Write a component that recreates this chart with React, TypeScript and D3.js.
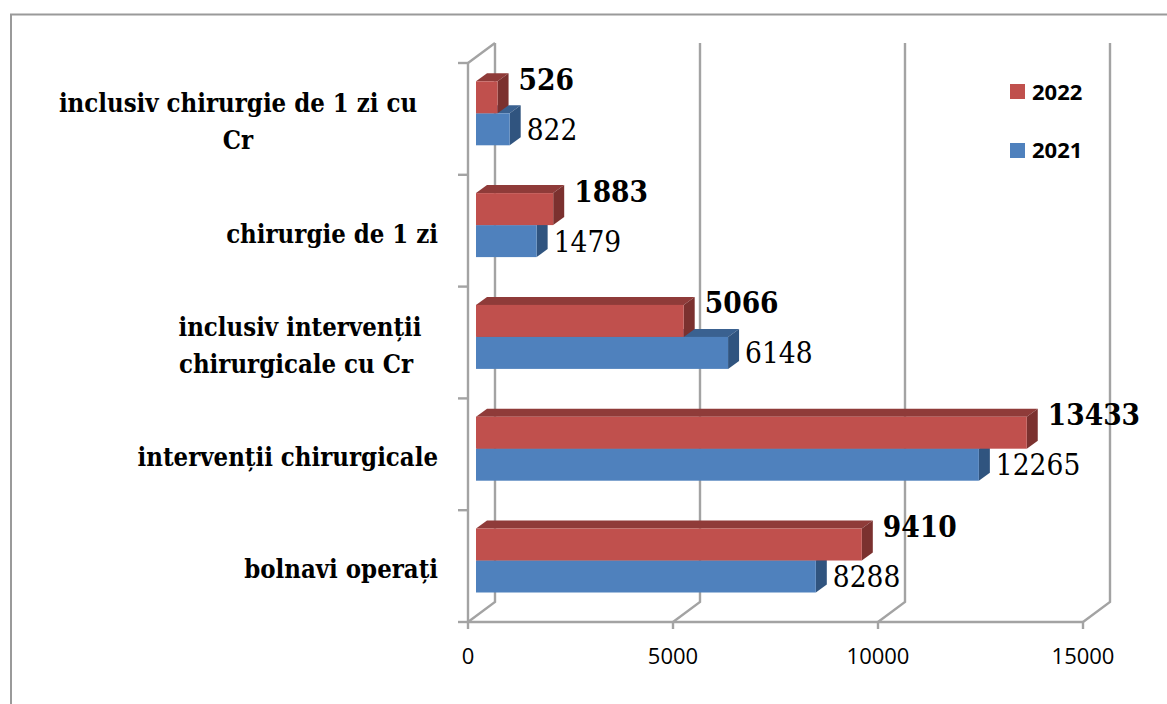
import React from "react";
import * as d3 from "d3";

const categories = ["inclusiv chirurgie de 1 zi cu|Cr", "chirurgie de 1 zi", "inclusiv intervenții|chirurgicale cu Cr ", "intervenții chirurgicale", "bolnavi operați"];
const values2021 = [822, 1479, 6148, 12265, 8288];
const values2022 = [526, 1883, 5066, 13433, 9410];
const xTicks = [0, 5000, 10000, 15000];
const legendYears = ["2022", "2021"];

const W = 1167, H = 704;
const x = d3.scaleLinear().domain([0, 15000]).range([468, 1083]);
const y = d3.scaleBand<string>().domain(categories).range([63, 622]);
const DX = 27, DY = -20;
const BAR_X = 8, BAR_H = 32, BAR_DX = 11, BAR_DY = -8;
const GRID = "#a3a3a3";
const SERIF = "'DejaVu Serif Condensed','DejaVu Serif',serif";
const SANS = "'Open Sans','Noto Sans',sans-serif";
const C = {
  red: { front: "#c0504d", top: "#8f3b39", side: "#7b312f" },
  blue: { front: "#4f81bd", top: "#3a6190", side: "#30547f" },
};
const poly = d3.line<[number, number]>();

function Bar({ v, top, c }: { v: number; top: number; c: typeof C.red }) {
  const x0 = x(0) + BAR_X;
  const x1 = x(v) + BAR_X;
  const b = top + BAR_H;
  return (
    <g>
      <path d={poly([[x0, top], [x0 + BAR_DX, top + BAR_DY], [x1 + BAR_DX, top + BAR_DY], [x1, top]]) + "Z"} fill={c.top} />
      <path d={poly([[x1, top], [x1 + BAR_DX, top + BAR_DY], [x1 + BAR_DX, b + BAR_DY], [x1, b]]) + "Z"} fill={c.side} />
      <rect x={x0} y={top} width={x1 - x0} height={BAR_H} fill={c.front} />
    </g>
  );
}

export default function App() {
  const floor = x.range();
  const front = y.range();
  return (
    <svg width={W} height={H} style={{ position: "fixed", left: 0, top: 0, background: "#fff" }}>
      <path d={`M11 ${H}V14.5H${W}`} fill="none" stroke="#9a9a9a" strokeWidth={2} />

      {/* walls */}
      <g stroke={GRID} strokeWidth={2.4} fill="none">
        {xTicks.map((t) => (
          <path key={t} d={`M${x(t)} ${front[1]}L${x(t) + DX} ${front[1] + DY}` + (t === 0 || t === 15000 || true ? `V${front[0] + DY}` : "")} />
        ))}
        <path d={`M${x(0)} ${front[0]}L${x(0) + DX} ${front[0] + DY}`} />
        <path d={`M${x(0)} ${front[0]}V${front[1]}H${floor[1]}`} />
        {xTicks.map((t) => <path key={t} d={`M${x(t)} ${front[1]}v7`} />)}
        {[...categories.map((c) => y(c)!), front[1]].map((p) => <path key={p} d={`M${x(0) - 10} ${p}H${x(0)}`} />)}
      </g>

      {/* bars, back to front */}
      {categories.map((c, i) => {
        const mid = y(c)! + y.bandwidth() / 2 - 5.6;
        return (
          <g key={c}>
            <Bar v={values2021[i]} top={mid} c={C.blue} />
            <Bar v={values2022[i]} top={mid - BAR_H} c={C.red} />
          </g>
        );
      })}

      {/* data labels */}
      {categories.map((c, i) => {
        const mid = y(c)! + y.bandwidth() / 2 - 5.6;
        return (
          <g key={c} fontFamily={SERIF} fontSize={29.5} fill="#000">
            <text x={x(values2022[i]) + BAR_X + BAR_DX + 10} y={mid - 34 + 10.5} fontWeight={700}>{values2022[i]}</text>
            <text x={x(values2021[i]) + BAR_X + BAR_DX + 6} y={mid + 16 + 10.5}>{values2021[i]}</text>
          </g>
        );
      })}

      {/* category labels */}
      {categories.map((c) => {
        const mid = y(c)! + y.bandwidth() / 2;
        const lines = c.split("|");
        const w = Math.max(...lines.map((l) => l.length));
        return (
          <g key={c} fontFamily={SERIF} fontSize={25.5} fontWeight={700} fill="#000" textAnchor="middle">
            {lines.map((l, j) => {
              const cx = lines.length === 1 ? 438 : l === "Cr" || lines[0].startsWith("inclusiv chir") ? 238 : 300;
              return (
                <text key={j} x={cx} y={lines.length === 1 ? mid + 12 : mid - 6.5 + j * 36.5} textAnchor={lines.length === 1 ? "end" : "middle"} xmlSpace="preserve">{l}</text>
              );
            })}
          </g>
        );
      })}

      {/* x tick labels */}
      {xTicks.map((t) => (
        <text key={t} x={x(t)} y={664} textAnchor="middle" fontFamily={SANS} fontSize={22} fill="#000">{t}</text>
      ))}

      {/* legend */}
      {legendYears.map((l, i) => (
        <g key={l}>
          <rect x={1010} y={84 + i * 59} width={15} height={15} fill={i === 0 ? C.red.front : C.blue.front} />
          <text x={1032} y={100 + i * 58} fontFamily={SANS} fontWeight={700} fontSize={22} fill="#000">{l}</text>
        </g>
      ))}
    </svg>
  );
}
